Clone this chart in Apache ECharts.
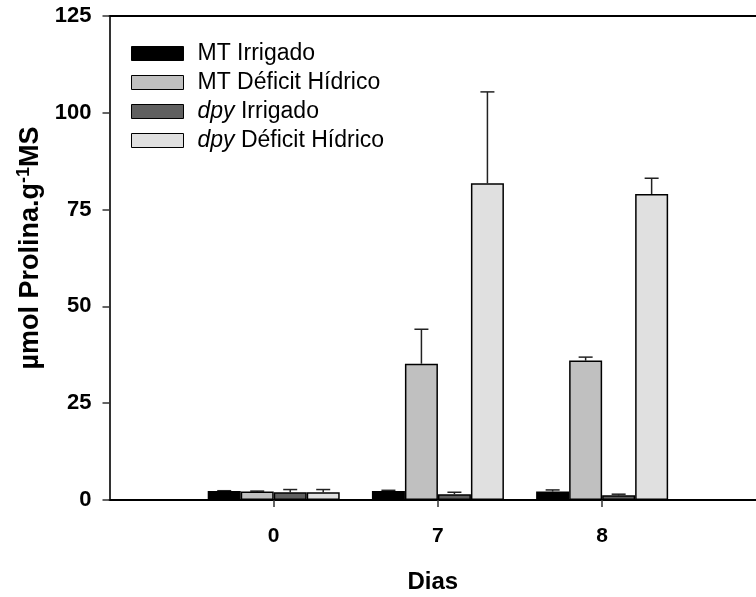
<!DOCTYPE html>
<html>
<head>
<meta charset="utf-8">
<script src="https://cdn.jsdelivr.net/npm/echarts@6/dist/echarts.min.js"></script>
<style>
  html, body { margin: 0; padding: 0; background: #fff; }
  #chart { width: 756px; height: 597px; }
</style>
</head>
<body>
<div id="chart"></div>
<script>
// dias, placed at x = 1, 2, 3 on the axis
var dias = ['0', '7', '8']
var seriesNames = ['MT Irrigado', 'MT Déficit Hídrico', 'dpy Irrigado', 'dpy Déficit Hídrico']
var seriesColors = ['#000000', '#c0c0c0', '#606060', '#e0e0e0']

// means
var mtIrrigado = [2.3, 2.3, 2.2]
var mtDeficit = [2.2, 35.2, 36.0]
var dpyIrrigado = [2.0, 1.5, 1.2]
var dpyDeficit = [2.0, 81.8, 79.0]
// upper error bars
var mtIrrigadoErr = [0.1, 0.2, 0.4]
var mtDeficitErr = [0.1, 8.9, 0.9]
var dpyIrrigadoErr = [0.7, 0.5, 0.3]
var dpyDeficitErr = [0.7, 23.6, 4.1]

var yTicks = [0, 25, 50, 75, 100, 125]

var means = [mtIrrigado, mtDeficit, dpyIrrigado, dpyDeficit]
var errs = [mtIrrigadoErr, mtDeficitErr, dpyIrrigadoErr, dpyDeficitErr]

var FONT = 'Arial, "Liberation Sans", sans-serif'
var BAR_W = 33

var chart = echarts.init(document.getElementById('chart'))

var series = []
means.forEach(function (d, i) {
  series.push({
    name: seriesNames[i],
    type: 'bar',
    data: d.map(function (v, j) { return [j + 1, v] }),
    barWidth: BAR_W,
    barGap: '0%',
    itemStyle: { color: seriesColors[i], borderColor: '#000', borderWidth: 1.5 },
    emphasis: { disabled: true },
    z: 2
  })
})

// error bars, one custom series drawing over all groups
var errData = []
means.forEach(function (d, i) {
  d.forEach(function (v, j) {
    errData.push([j + 1, v, errs[i][j], i])
  })
})
series.push({
  type: 'custom',
  data: errData,
  z: 1,
  silent: true,
  renderItem: function (params, api) {
    var c = api.value(0)
    var v = api.value(1)
    var e = api.value(2)
    var k = api.value(3)
    var base = api.coord([c, v])
    var top = api.coord([c, v + e])
    var x = base[0] + (k - 1.5) * BAR_W
    var style = { stroke: '#222', lineWidth: 1.5 }
    return {
      type: 'group',
      children: [
        { type: 'line', shape: { x1: x, y1: base[1], x2: x, y2: top[1] }, style: style },
        { type: 'line', shape: { x1: x - 7, y1: top[1], x2: x + 7, y2: top[1] }, style: style }
      ]
    }
  }
})

var option = {
  backgroundColor: '#fff',
  animation: false,
  textStyle: { fontFamily: FONT },
  grid: {
    left: 109.5,
    right: 0,
    top: 16,
    bottom: 97,
    show: false,
    outerBoundsMode: 'none'
  },
  legend: {
    orient: 'vertical',
    left: 126,
    top: 37,
    itemWidth: 52,
    itemHeight: 14,
    itemGap: 6,
    icon: 'rect',
    data: seriesNames,
    selectedMode: false,
    itemStyle: { borderColor: '#000', borderWidth: 1 },
    textStyle: {
      fontSize: 23,
      lineHeight: 20,
      color: '#000',
      fontFamily: FONT,
      padding: [0, 0, 0, 9],
      rich: {
        i: { fontStyle: 'italic', fontSize: 23, lineHeight: 20, fontFamily: FONT, color: '#000' }
      }
    },
    formatter: function (name) {
      if (name.indexOf('dpy') === 0) return '{i|dpy}' + name.slice(3)
      return name
    }
  },
  xAxis: [{
    type: 'value',
    min: 0,
    max: 3.937,
    name: 'Dias',
    nameLocation: 'middle',
    nameGap: 70,
    nameTextStyle: { fontSize: 24, fontWeight: 'bold', color: '#000', fontFamily: FONT },
    axisLine: { show: true, lineStyle: { color: '#000', width: 2 } },
    axisTick: {
      show: true,
      length: 7,
      lineStyle: { color: '#333', width: 1.5 },
      customValues: [1, 2, 3]
    },
    axisLabel: {
      fontSize: 21,
      fontWeight: 'bold',
      color: '#000',
      margin: 26,
      customValues: [1, 2, 3],
      formatter: function (v) { return dias[Math.round(v) - 1] }
    },
    splitLine: { show: false }
  }, {
    // top frame line
    type: 'value',
    min: 0,
    max: 3.937,
    position: 'top',
    axisLine: { show: true, lineStyle: { color: '#000', width: 2 } },
    axisTick: { show: false },
    axisLabel: { show: false },
    splitLine: { show: false }
  }],
  yAxis: {
    type: 'value',
    min: yTicks[0],
    max: yTicks[yTicks.length - 1],
    interval: 25,
    name: '{t|µmol Prolina.g}{s|-1}{t|MS}',
    nameLocation: 'middle',
    nameGap: 43,
    nameRotate: 90,
    nameTextStyle: {
      padding: [0, 0, 0, 20],
      rich: {
        t: { fontSize: 27, fontWeight: 'bold', color: '#000', fontFamily: FONT },
        s: { fontSize: 18, fontWeight: 'bold', color: '#000', fontFamily: FONT, verticalAlign: 'top', padding: [0, 0, 12, 0] }
      }
    },
    axisLine: { show: true, lineStyle: { color: '#333', width: 2 } },
    axisTick: { show: true, length: 7, lineStyle: { color: '#333', width: 1.5 } },
    axisLabel: { fontSize: 22, fontWeight: 'bold', color: '#000', margin: 18 },
    splitLine: { show: false }
  },
  series: series
}

chart.setOption(option)
</script>
</body>
</html>
